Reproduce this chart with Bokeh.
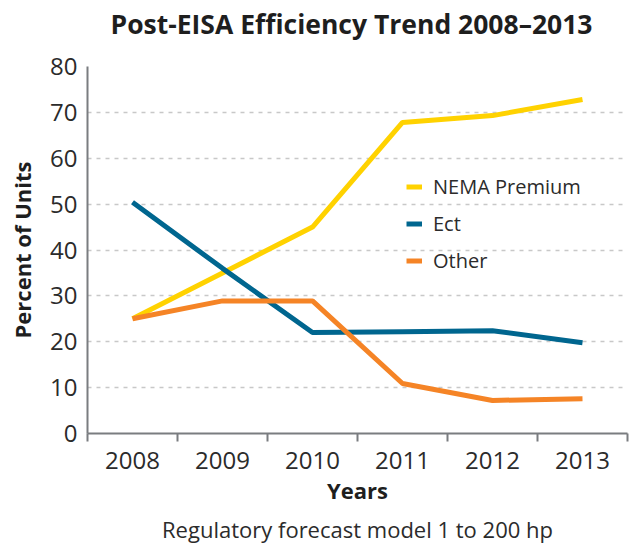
from bokeh.plotting import figure
from bokeh.models import FixedTicker, Title, Legend, LegendItem, ColumnDataSource, Range1d
from bokeh.embed import file_html
from bokeh.resources import INLINE

years = ["2008", "2009", "2010", "2011", "2012", "2013"]
nema_premium = [25.0, 35.0, 45.0, 67.8, 69.3, 72.8]
ect = [50.4, 36.0, 22.0, 22.2, 22.4, 19.8]
other = [25.0, 28.9, 28.9, 10.9, 7.2, 7.6]
y_ticks = [0, 10, 20, 30, 40, 50, 60, 70, 80]

idx = list(range(len(years)))
src = ColumnDataSource(dict(x=idx, nema=nema_premium, ect=ect, other=other))

FONT = "Open Sans"
TXT = "#2b2b2b"

p = figure(width=631, height=548, output_backend="svg", toolbar_location=None,
           x_range=Range1d(-0.5, len(years) - 0.5), y_range=Range1d(0, 80),
           min_border_left=87, min_border_right=4, min_border_top=66, min_border_bottom=114)
p.outline_line_color = None
p.background_fill_color = "white"
p.border_fill_color = "white"

# spacer between frame and title (nearest the frame)
spacer = Title(text="\u00a0", text_font=FONT, text_font_size="10px", standoff=7)
p.add_layout(spacer, "above")

title = Title(text="Post-EISA Efficiency Trend 2008\u20132013", align="left",
              text_font=FONT, text_font_size="26.5px", text_font_style="bold",
              text_color="#1e1e1e", standoff=4, offset=23)
p.add_layout(title, "above")

sub = Title(text="Regulatory forecast model 1 to 200 hp", align="center",
            text_font=FONT, text_font_size="22px", text_font_style="normal",
            text_color=TXT, standoff=9)
p.add_layout(sub, "below")

r1 = p.line("x", "nema", source=src, line_color="#FFD200", line_width=5)
r2 = p.line("x", "ect", source=src, line_color="#00668F", line_width=5)
r3 = p.line("x", "other", source=src, line_color="#F58426", line_width=5)

legend = Legend(items=[LegendItem(label="NEMA Premium", renderers=[r1]),
                       LegendItem(label="Ect", renderers=[r2]),
                       LegendItem(label="Other", renderers=[r3])],
                location=(319, 159), orientation="vertical",
                border_line_color=None, background_fill_alpha=0,
                padding=0, margin=0, spacing=10,
                glyph_width=16, glyph_height=23, label_height=23,
                label_text_font=FONT, label_text_font_size="20px",
                label_text_color=TXT, label_standoff=11)
p.add_layout(legend)

# x axis
xa = p.xaxis[0]
xa.ticker = FixedTicker(ticks=idx, minor_ticks=[i - 0.5 for i in range(len(years) + 1)])
xa.major_label_overrides = {i: y for i, y in enumerate(years)}
xa.major_tick_line_color = None
xa.major_tick_out = 0
xa.major_tick_in = 0
xa.minor_tick_line_color = "#7a7d80"
xa.minor_tick_line_width = 2
xa.minor_tick_out = 8
xa.minor_tick_in = 0
xa.axis_line_color = "#7a7d80"
xa.axis_line_width = 2
xa.major_label_text_font = FONT
xa.major_label_text_font_size = "24px"
xa.major_label_text_color = TXT
xa.major_label_standoff = 10
xa.axis_label = "Years"
xa.axis_label_text_font = FONT
xa.axis_label_text_font_size = "22px"
xa.axis_label_text_font_style = "bold"
xa.axis_label_text_color = "#1e1e1e"
xa.axis_label_standoff = 3

# y axis
ya = p.yaxis[0]
ya.ticker = FixedTicker(ticks=y_ticks)
ya.major_tick_line_color = None
ya.major_tick_out = 0
ya.major_tick_in = 0
ya.minor_tick_line_color = None
ya.axis_line_color = "#7a7d80"
ya.axis_line_width = 2
ya.major_label_text_font = FONT
ya.major_label_text_font_size = "24px"
ya.major_label_text_color = TXT
ya.major_label_standoff = 10
ya.axis_label = "Percent of Units"
ya.axis_label_text_font = FONT
ya.axis_label_text_font_size = "22px"
ya.axis_label_text_font_style = "bold"
ya.axis_label_text_color = "#1e1e1e"
ya.axis_label_standoff = 10

p.xgrid.grid_line_color = None
p.ygrid.grid_line_color = "#c8c8c8"
p.ygrid.grid_line_width = 1.5
p.ygrid.grid_line_dash = "4 5"

open("out.html", "w").write(file_html(p, INLINE))
